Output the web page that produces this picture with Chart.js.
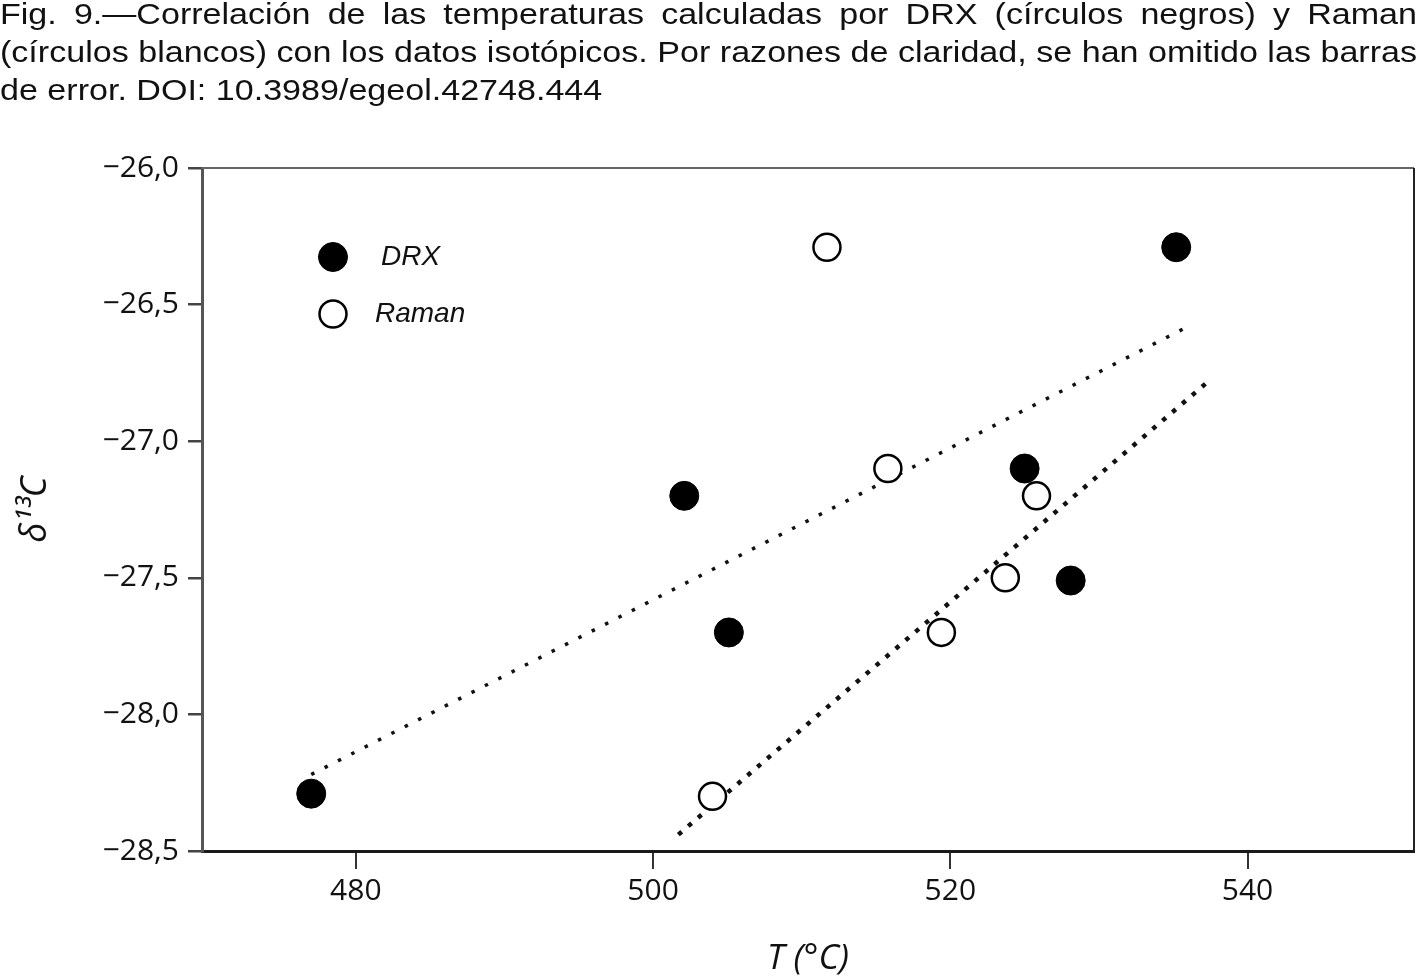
<!DOCTYPE html>
<html><head><meta charset="utf-8">
<script src="https://cdn.jsdelivr.net/npm/chart.js@4.4.1/dist/chart.umd.min.js"></script>
<style>
html,body{margin:0;padding:0;background:#fff;width:1417px;height:980px;overflow:hidden;}
canvas{position:absolute;left:0;top:0;}
#cap{position:absolute;left:0;top:-5px;font-family:'Liberation Sans Narrow','Liberation Sans',Arial,sans-serif;font-size:30px;line-height:38px;color:#111;transform-origin:0 0;}
#cap div{text-align:justify;text-align-last:justify;white-space:nowrap;}
#cap div.last{text-align-last:left;}
#meas{position:absolute;visibility:hidden;white-space:nowrap;font-family:'Liberation Sans Narrow','Liberation Sans',Arial,sans-serif;font-size:30px;}
</style></head><body>
<canvas id="c" width="1417" height="980"></canvas>
<div id="cap">
<div>Fig. 9.—Correlación de las temperaturas calculadas por DRX (círculos negros) y Raman</div>
<div id="l2">(círculos blancos) con los datos isotópicos. Por razones de claridad, se han omitido las barras</div>
<div class="last">de error. DOI: 10.3989/egeol.42748.444</div>
</div>
<span id="meas"></span>
<script>
// ---- data ----
const drxT      = [477.0, 502.1, 505.1, 525.0, 528.1, 535.2];
const drxD13C   = [-28.29, -27.20, -27.70, -27.10, -27.51, -26.29];
const ramanT    = [504.0, 511.7, 515.8, 519.4, 523.7, 525.8];
const ramanD13C = [-28.30, -26.29, -27.10, -27.70, -27.50, -27.20];
const drxFitT      = [477.0, 536.0];
const drxFitD13C   = [-28.22, -26.58];
const ramanFitT    = [501.7, 537.6];
const ramanFitD13C = [-28.44, -26.77];
const xTicks = [480, 500, 520, 540];
const yTicks = [-26.0, -26.5, -27.0, -27.5, -28.0, -28.5];
const seriesNames = ['DRX', 'Raman'];

// caption: scale horizontally so line 2 spans the page width
(function(){
  const m = document.getElementById('meas');
  m.textContent = document.getElementById('l2').textContent;
  const w = m.offsetWidth;
  const cap = document.getElementById('cap');
  cap.style.width = (w + 1) + 'px';
  cap.style.transform = 'scaleX(' + (1417 / (w + 1)) + ')';
})();

const pts = (xs, ys) => xs.map((x, i) => ({x: x, y: ys[i]}));

const framePlugin = {
  id: 'frame',
  beforeDatasetsDraw(chart) {
    const {ctx, chartArea: a} = chart;
    ctx.save();
    ctx.lineWidth = 2;
    ctx.strokeStyle = '#666';
    ctx.beginPath(); ctx.moveTo(a.left, a.top); ctx.lineTo(a.right, a.top); ctx.stroke();
    ctx.strokeStyle = '#222';
    ctx.beginPath(); ctx.moveTo(a.right, a.top); ctx.lineTo(a.right, a.bottom); ctx.stroke();
    ctx.restore();
  }
};

const legendPlugin = {
  id: 'innerLegend',
  afterDraw(chart) {
    const {ctx} = chart;
    const rows = [
      {ds: chart.data.datasets[0], cx: 333, cy: 257, tx: 381},
      {ds: chart.data.datasets[1], cx: 333, cy: 314, tx: 375}
    ];
    ctx.save();
    rows.forEach(r => {
      ctx.beginPath();
      ctx.arc(r.cx, r.cy, r.ds.pointRadius, 0, Math.PI * 2);
      ctx.fillStyle = r.ds.backgroundColor;
      ctx.fill();
      ctx.lineWidth = r.ds.borderWidth;
      ctx.strokeStyle = r.ds.borderColor;
      ctx.stroke();
      ctx.fillStyle = '#111';
      ctx.font = 'italic 28px "Liberation Sans", Arial, sans-serif';
      ctx.textBaseline = 'middle';
      ctx.textAlign = 'left';
      ctx.fillText(r.ds.label, r.tx, r.cy);
    });
    ctx.restore();
  }
};

const fmtY = v => (v < 0 ? '\u2212' : '') + Math.abs(v).toFixed(1).replace('.', ',');

new Chart(document.getElementById('c'), {
  type: 'scatter',
  data: {
    datasets: [
      {label: seriesNames[0], data: pts(drxT, drxD13C), pointRadius: 14.5, pointHoverRadius: 14.5,
       backgroundColor: '#000', borderColor: '#000', borderWidth: 1},
      {label: seriesNames[1], data: pts(ramanT, ramanD13C), pointRadius: 13.5, pointHoverRadius: 13.5,
       backgroundColor: '#fff', borderColor: '#000', borderWidth: 2.5},
      {type: 'line', label: 'DRX fit', data: pts(drxFitT, drxFitD13C), showLine: true, fill: false,
       pointRadius: 0, borderColor: '#111', borderWidth: 3.5, borderDash: [3.5, 11.5], borderCapStyle: 'butt'},
      {type: 'line', label: 'Raman fit', data: pts(ramanFitT, ramanFitD13C), showLine: true, fill: false,
       pointRadius: 0, borderColor: '#111', borderWidth: 4.5, borderDash: [4.5, 8.5], borderCapStyle: 'butt'}
    ]
  },
  options: {
    responsive: false, animation: false, devicePixelRatio: 1,
    layout: {autoPadding: false, padding: {left: 0, top: 168, right: 3, bottom: 0}},
    plugins: {legend: {display: false}, tooltip: {enabled: false}},
    scales: {
      x: {
        type: 'linear', min: 469.65, max: 551.2,
        afterBuildTicks: s => { s.ticks = xTicks.map(v => ({value: v})); },
        afterFit: s => { s.height = 129; s.paddingLeft = 0; s.paddingRight = 0; },
        grid: {drawOnChartArea: false, drawTicks: true, tickLength: 18, color: '#333', lineWidth: 2},
        border: {display: true, color: '#1a1a1a', width: 3},
        ticks: {font: {family: 'Open Sans', size: 30}, color: '#111', padding: 4, maxRotation: 0,
                callback: v => String(v)},
        title: {display: true, text: 'T (°C)', color: '#111',
                font: {family: 'Open Sans', size: 35, style: 'italic'}, padding: {top: 0, bottom: 0}}
      },
      y: {
        type: 'linear', min: -28.5, max: -26.0,
        afterBuildTicks: s => { s.ticks = yTicks.map(v => ({value: v})); },
        afterFit: s => { s.width = 202; s.paddingTop = 0; s.paddingBottom = 0; },
        grid: {drawOnChartArea: false, drawTicks: true, tickLength: 14, color: '#444', lineWidth: 2.5},
        border: {display: true, color: '#555', width: 3},
        ticks: {font: {family: 'Open Sans', size: 30}, color: '#111', padding: 9, callback: v => fmtY(v)},
        title: {display: true, text: 'δ¹³C', color: '#111',
                font: {family: 'Open Sans', size: 36, style: 'italic'}, padding: {top: 14, bottom: 0}}
      }
    }
  },
  plugins: [framePlugin, legendPlugin]
});
</script>
</body></html>
